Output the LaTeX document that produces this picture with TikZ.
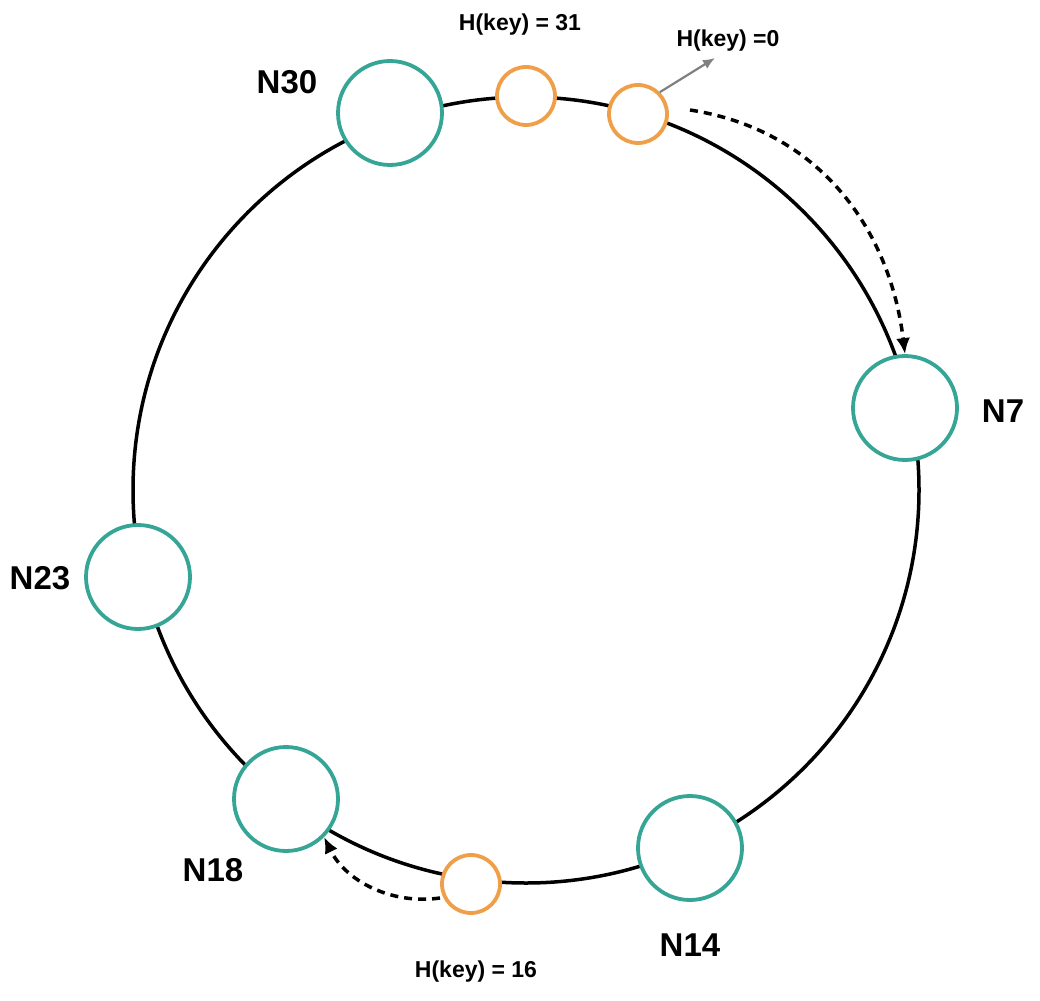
\documentclass[tikz,border=0pt]{standalone}
\usepackage{fontspec}
\setmainfont{Liberation Sans}
\usetikzlibrary{arrows.meta}
\definecolor{ringnode}{HTML}{35A596}
\definecolor{keynode}{HTML}{EF9F48}
\begin{document}
\begin{tikzpicture}[x=1pt, y=-1pt]
\def\nodesize{104pt}
\def\keysize{58pt}
\def\labelfontsize{\fontsize{33}{38}\selectfont\bfseries}
\def\keyfontsize{\fontsize{23}{27}\selectfont\bfseries}
\tikzset{
  ring/.style={circle, draw=ringnode, line width=3.8pt, fill=white, minimum size=\nodesize, inner sep=0pt},
  hkey/.style={circle, draw=keynode, line width=3.8pt, fill=white, minimum size=\keysize, inner sep=0pt},
  lookup/.style={-{Latex[length=16pt,width=14pt]}, line width=3.5pt, dash pattern=on 8pt off 6pt}
}
\useasboundingbox (0,0) rectangle (1040,1000);

\draw[line width=3.5pt] (526, 490) circle (393);

\node [ring] (n30) at (390, 113) {};
\node [ring] (n7) at (905, 408) {};
\node [ring] (n23) at (138, 577) {};
\node [ring] (n18) at (286, 799) {};
\node [ring] (n14) at (690, 848) {};

\node [hkey] (k31) at (526, 96) {};
\node [hkey] (k0) at (638, 114) {};
\node [hkey] (k16) at (471, 884) {};

\node [font=\labelfontsize] (l30) at (287, 82) {N30};
\node [font=\labelfontsize] (l7) at (1003, 411) {N7};
\node [font=\labelfontsize] (l23) at (40, 578) {N23};
\node [font=\labelfontsize] (l18) at (213, 870) {N18};
\node [font=\labelfontsize] (l14) at (690, 945) {N14};

\node [font=\keyfontsize] (t31) at (520, 25) {H(key) = 31};
\node [font=\keyfontsize] (t0) at (728, 41) {H(key) =0};
\node [font=\keyfontsize] (t16) at (476, 972) {H(key) = 16};

\coordinate (g0) at (715, 58);
\draw [gray, line width=2.2pt, -{Latex[length=12pt,width=10pt]}] (k0.north east) -- (g0);

\coordinate (s0) at (690, 110);
\draw [lookup] (s0) .. controls (820, 130) and (890, 230) .. (n7.north);
\coordinate (s16) at (440, 898);
\draw [lookup] (s16) .. controls (390, 905) and (345, 880) .. (n18.south east);
\end{tikzpicture}
\end{document}
